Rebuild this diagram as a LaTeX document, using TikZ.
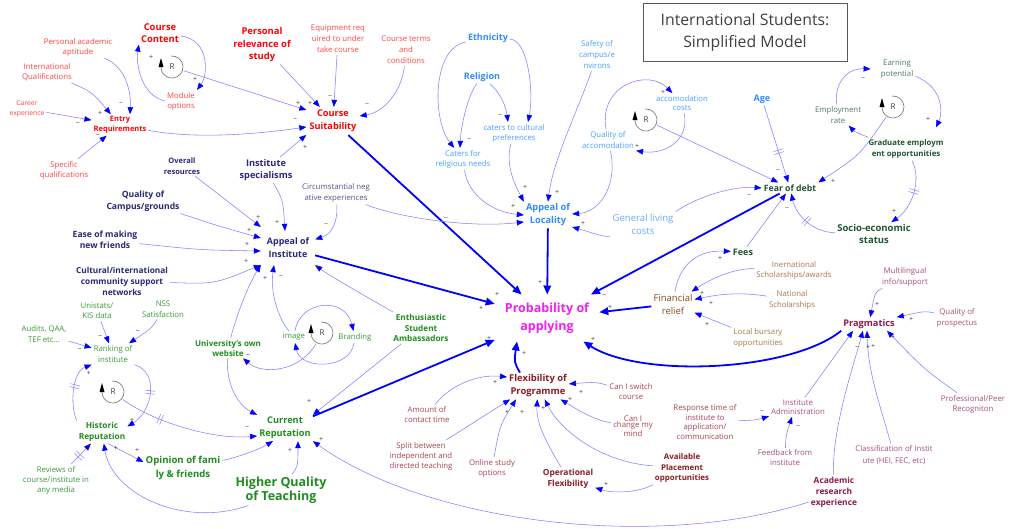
\documentclass[tikz,border=0pt]{standalone}
\usepackage{fontspec}
\setmainfont{Open Sans}
\usetikzlibrary{arrows.meta,decorations.markings}
\definecolor{cRedB}{HTML}{FF0000}
\definecolor{cRedL}{HTML}{FF4545}
\definecolor{cBlueB}{HTML}{2F8CFA}
\definecolor{cBlueL}{HTML}{4AA0FF}
\definecolor{cBlueLL}{HTML}{6AAEF5}
\definecolor{cNavy}{HTML}{28287A}
\definecolor{cNavyL}{HTML}{55558A}
\definecolor{cDGreen}{HTML}{1F5530}
\definecolor{cDGreenL}{HTML}{4F7A60}
\definecolor{cGreen}{HTML}{1E8C1E}
\definecolor{cGreenL}{HTML}{3C9A3C}
\definecolor{cMag}{HTML}{F020F0}
\definecolor{cBrown}{HTML}{8A4B20}
\definecolor{cBrownL}{HTML}{A8784A}
\definecolor{cMaroon}{HTML}{8B1C24}
\definecolor{cMaroonL}{HTML}{A8454F}
\definecolor{cPlum}{HTML}{8C1A4B}
\definecolor{cPlumL}{HTML}{A8507A}
\definecolor{linec}{HTML}{8282FF}
\definecolor{tipc}{HTML}{0000FF}
\tikzset{
 boldt/.style 2 args={align=center, inner sep=2pt, font=\bfseries\fontsize{#1}{#2}\selectfont},
 regt/.style 2 args={align=center, inner sep=2pt, font=\fontsize{#1}{#2}\selectfont},
 ar/.style={draw=linec, line width=0.55pt, -{Triangle[length=7pt,width=5.5pt,color=tipc]}},
 tk/.style={draw=tipc, line width=1.8pt, -{Triangle[length=9pt,width=7.5pt]}},
 pol/.style={font=\fontsize{7}{7}\selectfont, text=black!75, inner sep=0pt},
 rl/.style={circle, minimum size=24pt, inner sep=0pt, font=\fontsize{8}{8}\selectfont, text=black!75},
 delay/.style={postaction={decorate, decoration={markings, mark=at position #1 with {\draw[-, draw=linec, line width=0.5pt] (-1.5pt,-5pt) -- (-1.5pt,5pt) (1.5pt,-5pt) -- (1.5pt,5pt);}}}},
}
\begin{document}
\begin{tikzpicture}[x=1pt,y=-1pt]
\useasboundingbox (0,0) rectangle (1012,528);
\fill[white] (0,0) rectangle (1012,528);

% title
\node[draw=black!65, line width=0.9pt, minimum width=204pt, minimum height=58pt, align=center, font=\fontsize{15.8}{22}\selectfont, text=black!75] (title) at (745,32) {International Students:\\Simplified Model};

% red group
\node[boldt={9.4}{12}, text=cRedB] (cc) at (160,33) {Course\\Content};
\node[boldt={9.4}{12.5}, text=cRedB] (prs) at (262,45) {Personal\\relevance of\\study};
\node[regt={7.8}{11}, text=cRedL] (eq) at (338,39) {Equipment req\\uired to under\\take course};
\node[regt={7.8}{11}, text=cRedL] (ct) at (406,50) {Course terms\\and\\conditions};
\node[regt={7.8}{10}, text=cRedL] (paa) at (78,47) {Personal academic\\aptitude};
\node[regt={7.8}{10}, text=cRedL] (iq) at (47,72) {International\\Qualifications};
\node[regt={6.8}{10}, text=cRedL] (ce) at (27,109) {Career\\experience};
\node[boldt={7.5}{10}, text=cRedB] (er) at (120,125) {Entry\\Requirements};
\node[regt={7.8}{10}, text=cRedL] (sq) at (64,170) {Specific\\qualifications};
\node[regt={7.8}{10}, text=cRedL] (mo) at (181,101) {Module\\options};
\node[boldt={9.2}{13}, text=cRedB, inner sep=3pt] (cs) at (333,121) {Course\\Suitability};

% blue group
\node[boldt={9}{12}, text=cBlueB] (eth) at (488,38) {Ethnicity};
\node[boldt={9}{12}, text=cBlueB] (rel) at (482,77) {Religion};
\node[regt={7.8}{11}, text=cBlueL] (saf) at (597,55) {Safety of\\campus/e\\nvirons};
\node[regt={7.8}{10}, text=cBlueL] (ccp) at (514,133) {caters to cultural\\preferences};
\node[regt={7.8}{10}, text=cBlueL] (crn) at (463,159) {Caters for\\religious needs};
\node[regt={7.8}{11}, text=cBlueL] (qa) at (608,140) {Quality of\\accomodation};
\node[regt={7.8}{9.5}, text=cBlueL] (ac) at (682,103) {accomodation\\costs};
\node[boldt={9.3}{13}, text=cBlueB] (al) at (548,215) {Appeal of\\Locality};
\node[regt={9.6}{13}, text=cBlueLL] (glc) at (643,224) {General living\\costs};
\node[boldt={9}{12}, text=cBlueB] (age) at (762,99) {Age};

% dark green group
\node[regt={7.8}{11}, text=cDGreenL] (ep) at (897,69) {Earning\\potential};
\node[regt={7.8}{11}, text=cDGreenL] (emr) at (838,115) {Employment\\rate};
\node[boldt={7.8}{11}, text=cDGreen] (geo) at (906,149) {Graduate employm\\ent opportunities};
\node[boldt={8.7}{12}, text=cDGreen] (fod) at (790,188) {Fear of debt};
\node[boldt={9.5}{12}, text=cDGreen] (ses) at (874,234) {Socio-economic\\status};
\node[boldt={9}{12}, text=cDGreen] (fees) at (743,252) {Fees};

% financial
\node[regt={9.5}{13}, text=cBrown] (fr) at (673,304) {Financial\\relief};
\node[regt={7.8}{10}, text=cBrownL] (isch) at (794,270) {Inernational\\Scholarships/awards};
\node[regt={7.8}{11}, text=cBrownL] (nsch) at (792,300) {National\\Scholarships};
\node[regt={7.8}{11}, text=cBrownL] (lbo) at (758,338) {Local bursary\\opportunities};

% institute
\node[boldt={7.5}{10.5}, text=cNavy] (ores) at (182,166) {Overall\\resources};
\node[boldt={9.2}{12}, text=cNavy] (ispec) at (266,170) {Institute\\specialisms};
\node[boldt={8.6}{12}, text=cNavy] (qcg) at (143,201) {Quality of\\Campus/grounds};
\node[boldt={8.6}{11}, text=cNavy] (emf) at (105,240) {Ease of making\\new friends};
\node[boldt={8.3}{11}, text=cNavy] (cin) at (122,281) {Cultural/international\\community support\\networks};
\node[boldt={8.9}{13}, text=cNavy, inner xsep=6pt, inner ysep=7pt] (ai) at (288,248) {Appeal of\\Institute};
\node[regt={7.8}{11}, text=cNavyL] (cne) at (336,193) {Circumstantial neg\\ative experiences};

% green group
\node[regt={7.8}{10}, text=cGreenL] (uks) at (97,311) {Unistats/\\KIS data};
\node[regt={7.8}{11}, text=cGreenL] (nss) at (163,309) {NSS\\Satisfaction};
\node[regt={7.8}{11}, text=cGreenL] (aud) at (44,334) {Audits, QAA,\\TEF etc...};
\node[regt={7.8}{11}, text=cGreenL] (rank) at (113,354) {Ranking of\\institute};
\node[boldt={8.3}{10.5}, text=cGreen] (hr) at (102,432) {Historic\\Reputation};
\node[regt={7.8}{10}, text=cGreenL] (rev) at (56,480) {Reviews of\\course/institute in\\any media};
\node[boldt={9.6}{14}, text=cGreen] (opf) at (183,468) {Opinion of fami\\ly \& friends};
\node[boldt={12.5}{14}, text=cGreen] (hqt) at (281,490) {Higher Quality\\of Teaching};
\node[boldt={8}{10}, text=cGreen] (uow) at (228,348) {University's own\\website};
\node[regt={7.8}{10}, text=cGreenL] (img) at (294,337) {image};
\node[regt={7.8}{10}, text=cGreenL] (brd) at (355,337) {Branding};
\node[boldt={8.2}{10.5}, text=cGreen] (esa) at (421,328) {Enthusiastic\\Student\\Ambassadors};
\node[boldt={9.2}{13}, text=cGreen] (cr) at (285,428) {Current\\Reputation};

% central
\node[boldt={12.5}{18}, text=cMag, inner xsep=10pt, inner ysep=8pt] (pa) at (547,318) {Probability of\\applying};

% flexibility
\node[boldt={9.4}{13}, text=cMaroon] (fp) at (538,386) {Flexibility of\\Programme};
\node[regt={7.8}{10}, text=cMaroonL] (cis) at (631,392) {Can I switch\\course};
\node[regt={7.8}{6.5}, text=cMaroonL] (cim) at (633,426) {Can I\\change my\\mind};
\node[regt={7.8}{9.7}, text=cMaroonL] (rti) at (705,422) {Response time of\\institute to\\application/\\communication};
\node[boldt={7.9}{10.5}, text=cMaroon] (apo) at (682,468) {Available\\Placement\\opportunities};
\node[boldt={8.4}{10.5}, text=cMaroon] (opf2) at (568,479) {Operational\\Flexibility};
\node[regt={7.8}{10}, text=cMaroonL] (oso) at (492,468) {Online study\\options};
\node[regt={7.8}{10}, text=cMaroonL] (sbt) at (421,456) {Split between\\independent and\\directed teaching};
\node[regt={7.8}{10}, text=cMaroonL] (act) at (427,415) {Amount of\\contact time};

% pragmatics
\node[boldt={9.2}{12}, text=cPlum] (prag) at (869,324) {Pragmatics};
\node[regt={7.8}{10.5}, text=cPlumL] (mis) at (905,277) {Multilingual\\info/support};
\node[regt={7.8}{11}, text=cPlumL] (qp) at (957,318) {Quality of\\prospectus};
\node[regt={7.8}{10}, text=cPlumL] (ppr) at (973,404) {Professional/Peer\\Recogniton};
\node[regt={7.8}{11.5}, text=cPlumL] (cls) at (894,455) {Classification of Instit\\ute (HEI, FEC, etc)};
\node[regt={7.8}{9.5}, text=cPlumL] (iad) at (798,407) {Institute\\Administration};
\node[regt={7.8}{10}, text=cPlumL] (ffi) at (785,458) {Feedback from\\institute};
\node[boldt={8.4}{11}, text=cPlum] (are) at (834,492) {Academic\\research\\experience};

% reinforcing loops
\node[rl] (R1) at (172,67) {R};
\node[rl] (R2) at (646,120) {R};
\node[rl] (R3) at (893,107) {R};
\node[rl] (R4) at (322,333) {R};
\node[rl] (R5) at (113,392) {R};
\foreach \r in {R1,R2,R3,R4,R5}{
 \draw[gray, line width=0.7pt] ([shift={(95:11pt)}]\r.center) arc[start angle=95, end angle=-180, radius=11pt];
 \fill[black] ([shift={(-11pt,9pt)}]\r.center) -- ([shift={(-13.5pt,0pt)}]\r.center) -- ([shift={(-8.5pt,0pt)}]\r.center) -- cycle;
}

% ---- connectors: red group
\draw[ar] (paa) .. controls (128,68) and (131,95) .. ([xshift=10pt]er.north);
\draw[ar] (iq) .. controls (92,92) .. (er);
\draw[ar] (ce) -- (er);
\draw[ar] (sq) -- (er);
\draw[ar] (er) .. controls (200,140) and (265,133) .. ([yshift=-6pt]cs.west);
\draw[ar] (R1) -- ([yshift=11pt]cs.west);
\draw[ar] (prs) -- (cs);
\draw[ar] (eq) -- (cs);
\draw[ar] (ct) .. controls (402,90) and (385,112) .. ([yshift=5pt]cs.east);
\draw[ar] (ispec) .. controls (290,148) .. ([yshift=-14pt]cs.west);
\draw[ar] (cc) .. controls (210,40) and (208,75) .. (mo.north east);
\draw[ar] (mo.west) .. controls (140,95) and (136,62) .. (cc.south west);
\draw[tk] (cs) -- (pa);

% blue group
\draw[ar] (eth) .. controls (432,48) and (432,120) .. (crn);
\draw[ar] (eth) .. controls (528,40) and (534,92) .. ([xshift=14pt]ccp.north);
\draw[ar] (rel) .. controls (468,95) and (461,125) .. ([xshift=-3pt]crn.north);
\draw[ar] (rel) .. controls (495,88) and (505,100) .. ([xshift=-6pt]ccp.north);
\draw[ar] (ccp) .. controls (505,165) and (515,185) .. (al.north west);
\draw[ar] (saf) .. controls (578,110) and (553,160) .. (al.north);
\draw[ar] (crn) .. controls (468,195) and (492,212) .. (al.west);
\draw[ar] (cne) .. controls (400,218) and (470,228) .. ([yshift=-7pt]al.west);
\draw[ar] (qa) .. controls (618,185) and (600,212) .. ([yshift=1pt]al.east);
\draw[ar] (glc) .. controls (605,238) and (590,232) .. ([yshift=-12pt]al.east);
\draw[tk] (al) -- (pa);
\draw[ar] (qa) .. controls (598,85) and (648,68) .. (ac);
\draw[ar] (ac) .. controls (690,140) and (665,155) .. (qa.south east);

% debt group
\draw[ar] (R2) -- (fod);
\draw[ar, delay=.6] (age) -- (fod);
\draw[ar] (glc.north east) .. controls (700,195) and (735,186) .. (fod.west);
\draw[tk] (fod) -- (pa);
\draw[ar] (fees) -- (fod);
\draw[ar, delay=.5] (ses) .. controls (812,232) and (796,215) .. (fod);
\draw[ar, delay=.45] (geo) .. controls (922,180) and (912,208) .. (ses);
\draw[ar] (ep) .. controls (945,88) and (942,115) .. ([xshift=30pt,yshift=10pt]geo.north);
\draw[ar] (emr) .. controls (834,82) and (848,68) .. ([xshift=-8pt]ep.west);
\draw[ar] (geo) .. controls (870,138) and (855,132) .. (emr);
\draw[ar] (R3) .. controls (860,155) .. (fod.north east);

% financial
\draw[tk] (fr) -- (pa);
\draw[ar] (fr) .. controls (680,262) and (700,250) .. (fees);
\draw[ar] (isch) .. controls (735,268) and (712,278) .. (fr);
\draw[ar] (nsch) .. controls (740,292) and (720,294) .. (fr);
\draw[ar] (lbo) .. controls (725,325) .. (fr);

% pragmatics
\draw[tk] (prag.south west) .. controls (790,372) and (640,378) .. (pa);
\draw[ar] (mis) .. controls (875,292) .. (prag);
\draw[ar] (qp) .. controls (925,311) .. (prag.north east);
\draw[ar] (ppr) .. controls (925,370) .. ([xshift=18pt]prag.south);
\draw[ar] (cls) .. controls (880,405) and (868,372) .. ([xshift=-2pt]prag.south);
\draw[ar] (are) .. controls (832,430) and (852,370) .. ([xshift=-6pt]prag.south);
\draw[ar] (iad) -- ([xshift=-16pt]prag.south);
\draw[ar] (rti) .. controls (757,420) .. (iad);
\draw[ar] (ffi) .. controls (786,435) .. ([xshift=-6pt]iad.south);

% flexibility
\draw[tk] ([xshift=-18pt]fp.north) .. controls (514,362) .. ([xshift=-30pt]pa.south);
\draw[ar] (cis) .. controls (596,382) .. (fp);
\draw[ar] (cim) .. controls (592,420) and (570,405) .. (fp);
\draw[ar] (apo) .. controls (600,462) and (560,430) .. (fp);
\draw[ar] (opf2) .. controls (548,445) and (536,425) .. (fp);
\draw[ar] (oso) .. controls (500,425) .. ([xshift=-22pt]fp.south);
\draw[ar] (sbt) -- ([xshift=-28pt]fp.south);
\draw[ar] (act) .. controls (450,385) and (478,374) .. ([yshift=9pt]fp.west);
\draw[ar] (apo) .. controls (640,492) and (615,494) .. (opf2);

% institute
\draw[ar] (ores) -- ([yshift=21pt]ai.west);
\draw[ar] (qcg) .. controls (215,225) .. ([yshift=10pt]ai.west);
\draw[ar] (emf) .. controls (200,250) .. ([yshift=-3pt]ai.west);
\draw[ar] (cin) .. controls (215,284) .. ([yshift=-17pt]ai.west);
\draw[ar] (ispec) .. controls (283,200) .. ([xshift=-3pt]ai.north);
\draw[ar] (cne) .. controls (338,222) and (332,234) .. (ai);
\draw[tk] (ai) -- (pa);
\draw[ar] (uow) .. controls (238,310) and (250,282) .. (ai.south west);
\draw[ar] (img) .. controls (278,318) and (270,292) .. ([xshift=-14pt]ai.south);
\draw[ar] (esa) .. controls (372,300) and (330,276) .. (ai.south east);
\draw[ar] (img) .. controls (300,300) and (345,296) .. (brd);
\draw[ar] (brd) .. controls (350,370) and (300,370) .. (img);
\draw[ar] (R4) .. controls (300,372) and (262,375) .. ([xshift=-20pt]uow.south east);
\draw[ar] (uow) .. controls (226,385) and (238,405) .. (cr.north west);
\draw[ar] (esa) -- (cr.north east);
\draw[tk] (cr) -- (pa);

% reputation
\draw[ar, delay=.3] (R5) .. controls (150,420) and (210,440) .. ([yshift=-8pt]cr.west);
\draw[ar] (opf) .. controls (235,458) and (258,450) .. ([xshift=-12pt]cr.south);
\draw[ar] (hqt) .. controls (298,466) .. ([xshift=13pt]cr.south);
\draw[ar] ([xshift=15pt]hqt.south west) .. controls (185,528) and (112,495) .. (hr);
\draw[ar] ([xshift=6pt]hr.south) -- ([yshift=6pt]opf.west);
\draw[ar, delay=.55] (hr.north west) .. controls (70,405) and (72,372) .. (rank.south west);
\draw[ar, delay=.45] (rank.south east) .. controls (160,372) and (152,412) .. ([yshift=-6pt]hr.north east);
\draw[ar] (aud) -- (rank);
\draw[ar] (uks) -- (rank);
\draw[ar] (nss) .. controls (152,328) .. (rank);
\draw[ar, delay=.4] (rev) -- (hr);
\draw[ar] ([yshift=-10pt]are.west) .. controls (660,550) and (430,525) .. (cr.south east);

% polarity signs
\foreach \x/\y/\s [count=\i] in {121/104/−, 100/113/+, 78/124/−, 98/136/−, 151/57/+, 195/79/+, 298/103/+, 310/103/+, 295/120/−, 330/97/−, 367/105/−, 305/147/+,
 469/140/−, 500/116/−, 525/187/+, 513/206/+, 557/192/+, 583/223/+, 540/282/+, 663/92/+, 637/146/+,
 778/171/−, 749/196/−, 787/209/−, 833/181/+, 894/211/+, 928/119/+, 863/79/−, 852/132/−,
 604/296/−, 610/307/+, 720/258/+, 702/293/+, 711/303/+, 707/324/+,
 877/304/+, 911/319/+, 893/337/+, 857/348/−, 868/347/+, 873/346/+, 762/412/−, 798/427/−, 593/339/+,
 524/353/+, 581/392/+, 570/399/+, 543/408/+, 522/412/+, 507/412/+, 606/484/+, 495/382/+,
 258/217/+, 249/230/+, 247/244/+, 246/261/+, 277/222/+, 326/225/−, 446/219/−, 265/278/+, 281/277/−, 317/267/+, 497/294/+, 481/308/+, 489/338/+, 248/356/−, 309/401/+, 247/428/−, 290/450/+, 321/439/+,
 80/350/−, 100/337/−, 138/332/−, 89/373/+, 132/420/+, 116/448/+, 137/450/+}
 \node[pol] (pol\i) at (\x,\y) {\s};
\end{tikzpicture}
\end{document}
